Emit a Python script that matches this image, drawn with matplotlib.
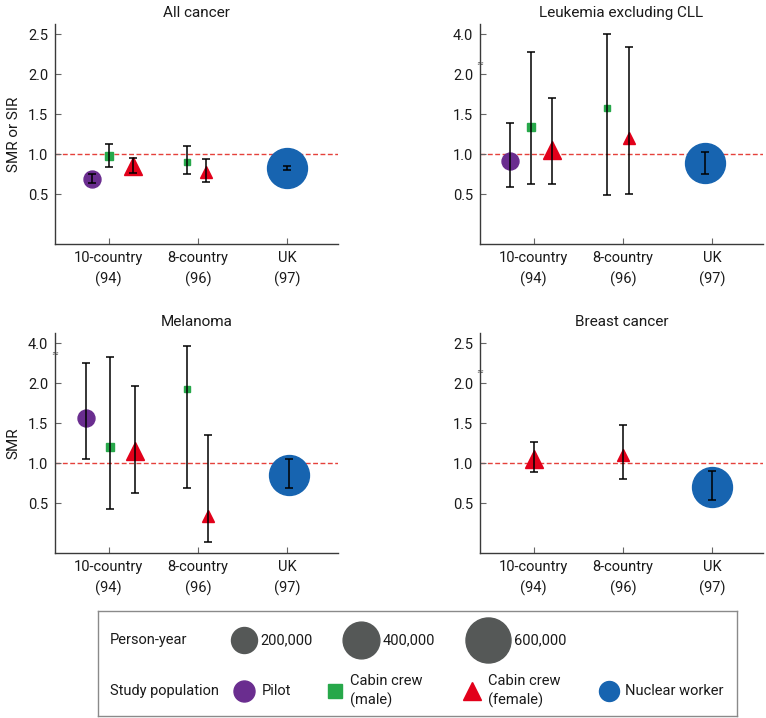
import matplotlib
matplotlib.use("Agg")
import matplotlib.pyplot as plt
import matplotlib.transforms as mtransforms
import numpy as np

plt.rcParams['font.family'] = ['Roboto', 'DejaVu Sans']

# =========================
# DATA
# =========================
studies = ["10-country\n(94)", "8-country\n(96)", "UK\n(97)"]
populations = ["Pilot", "Cabin crew\n(male)", "Cabin crew\n(female)", "Nuclear worker"]

# one entry per plotted point: study index, population index, person-years
point_study = [0, 0, 0, 1, 1, 2]
point_pop = [0, 1, 2, 1, 2, 3]
point_py = [92000, 20000, 104000, 15000, 54000, 510000]

nan = np.nan
all_cancer_est = [0.69, 0.98, 0.85, 0.90, 0.78, 0.83]
all_cancer_lo = [0.64, 0.84, 0.77, 0.75, 0.66, 0.81]
all_cancer_hi = [0.75, 1.13, 0.95, 1.11, 0.94, 0.85]

leukemia_est = [0.92, 1.34, 1.05, 1.58, 1.20, 0.89]
leukemia_lo = [0.59, 0.63, 0.63, 0.49, 0.51, 0.76]
leukemia_hi = [1.39, 3.10, 1.71, 4.00, 3.35, 1.03]

melanoma_est = [1.57, 1.20, 1.15, 1.93, 0.34, 0.86]
melanoma_lo = [1.05, 0.43, 0.63, 0.69, 0.02, 0.69]
melanoma_hi = [3.02, 3.30, 1.97, 3.87, 1.36, 1.06]

breast_est = [nan, nan, 1.05, nan, 1.10, 0.71]
breast_lo = [nan, nan, 0.89, nan, 0.81, 0.54]
breast_hi = [nan, nan, 1.27, nan, 1.48, 0.91]

legend_py = [200000, 400000, 600000]
legend_py_labels = ["200,000", "400,000", "600,000"]

# =========================
# STYLE / LAYOUT
# =========================
pop_colors = ["#6a2d8f", "#27a84a", "#e2001a", "#1764b0"]
pop_markers = ["o", "s", "^", "o"]
grey = "#555857"
txt = "#1a1a1a"
FS = 10.5

W, H = 766, 718
fig = plt.figure(figsize=(W / 100, H / 100), dpi=100)


def px_axes(left, top, right, bottom):
    return fig.add_axes([left / W, 1 - bottom / H, (right - left) / W, (bottom - top) / H])


def ms_for(py):
    # marker diameter in px, area proportional to person-years (200,000 -> 25 px)
    return 25 * np.sqrt(py / 200000) * 0.72


panels = [
    dict(title="All cancer", est=all_cancer_est, lo=all_cancer_lo, hi=all_cancer_hi,
         box=(55, 24, 338, 244), ylabel="SMR or SIR", top="2.5", brk=None,
         offs=[-0.19, 0.0, 0.27, -0.12, 0.09, 0.0]),
    dict(title="Leukemia excluding CLL", est=leukemia_est, lo=leukemia_lo, hi=leukemia_hi,
         box=(480, 24, 763, 244), ylabel=None, top="4.0", brk=2.15,
         offs=[-0.26, -0.03, 0.21, -0.18, 0.07, -0.08]),
    dict(title="Melanoma", est=melanoma_est, lo=melanoma_lo, hi=melanoma_hi,
         box=(55, 333, 338, 553), ylabel="SMR", top="4.0", brk=2.39,
         offs=[-0.25, 0.02, 0.30, -0.12, 0.11, 0.02]),
    dict(title="Breast cancer", est=breast_est, lo=breast_lo, hi=breast_hi,
         box=(480, 333, 763, 553), ylabel=None, top="2.5", brk=2.16,
         offs=[0.0, 0.0, 0.0, 0.0, 0.0, 0.0]),
]


def to_axis(v, top):
    # broken axis: above 2.0 the scale runs 2.0 -> 4.0 in the last step
    v = np.asarray(v, dtype=float)
    if top == "4.0":
        return np.where(v > 2, 2 + (v - 2) / 4, v)
    return v


for p in panels:
    ax = px_axes(*p["box"])
    ax.set_xlim(0.4, 3.57)
    ax.set_ylim(-0.12, 2.63)
    ax.spines["top"].set_visible(False)
    ax.spines["right"].set_visible(False)
    for s in ("left", "bottom"):
        ax.spines[s].set_color("#3a3a3a")
        ax.spines[s].set_linewidth(1.0)

    ax.axhline(1.0, color="#e5413b", ls="--", lw=1.0, dashes=(3.5, 1.8), zorder=1)

    est = to_axis(p["est"], p["top"])
    lo = to_axis(p["lo"], p["top"])
    hi = to_axis(p["hi"], p["top"])
    for i in range(len(est)):
        if np.isnan(est[i]):
            continue
        x = point_study[i] + 1 + p["offs"][i]
        pop = point_pop[i]
        ax.plot(x, est[i], marker=pop_markers[pop], ms=ms_for(point_py[i]),
                color=pop_colors[pop], mec=pop_colors[pop], ls="none", zorder=3)
        ax.errorbar(x, est[i], yerr=[[est[i] - lo[i]], [hi[i] - est[i]]], fmt="none",
                    ecolor="black", elinewidth=1.1, capsize=3, capthick=1.1, zorder=4)

    ax.set_xticks([1, 2, 3])
    ax.set_xticklabels(studies, fontsize=FS, color=txt, linespacing=1.55)
    ax.set_yticks([0.5, 1.0, 1.5, 2.0, 2.5])
    ax.set_yticklabels(["0.5", "1.0", "1.5", "2.0", p["top"]], fontsize=FS, color=txt)
    ax.tick_params(axis="both", direction="in", length=4, color="#666666", width=0.8)
    ax.tick_params(axis="x", pad=5)
    ax.tick_params(axis="y", pad=5)
    ax.set_title(p["title"], fontsize=11, pad=5, color=txt)
    if p["ylabel"]:
        ax.set_ylabel(p["ylabel"], fontsize=11, labelpad=5, color=txt)
    if p["brk"] is not None:
        trans = mtransforms.blended_transform_factory(ax.transAxes, ax.transData)
        ax.text(0, p["brk"], "\u2248", transform=trans, fontsize=6, ha="center",
                va="center", color="#444444", family="DejaVu Sans")

# =========================
# LEGEND BOX
# =========================
lg = px_axes(98, 611, 737, 716)
lg.set_xlim(98, 737)
lg.set_ylim(716, 611)
lg.set_xticks([])
lg.set_yticks([])
for s in lg.spines.values():
    s.set_color("#8a8a8a")
    s.set_linewidth(1.0)

row1, row2 = 640, 691
lg.text(110, row1, "Person-year", fontsize=FS, va="center", color=txt)
for cx, py, lab in zip([244, 361, 488], legend_py, legend_py_labels):
    lg.plot(cx, row1, "o", ms=ms_for(py) * 1.04, color=grey, mec=grey)
    lg.text(cx + ms_for(py) / 0.72 / 2 + 4, row1, lab, fontsize=FS, va="center", color=txt)

lg.text(110, row2, "Study population", fontsize=FS, va="center", color=txt)
leg_x = [244, 335, 472, 609]
leg_ms = [21, 14, 18, 20]
leg_tx = [262, 350, 488, 625]
for k in range(4):
    lg.plot(leg_x[k], row2, pop_markers[k], ms=leg_ms[k] * 0.72, color=pop_colors[k],
            mec=pop_colors[k])
    lg.text(leg_tx[k], row2, populations[k], fontsize=FS, va="center", color=txt,
            linespacing=1.4)

fig.savefig("out.png", dpi=100)
